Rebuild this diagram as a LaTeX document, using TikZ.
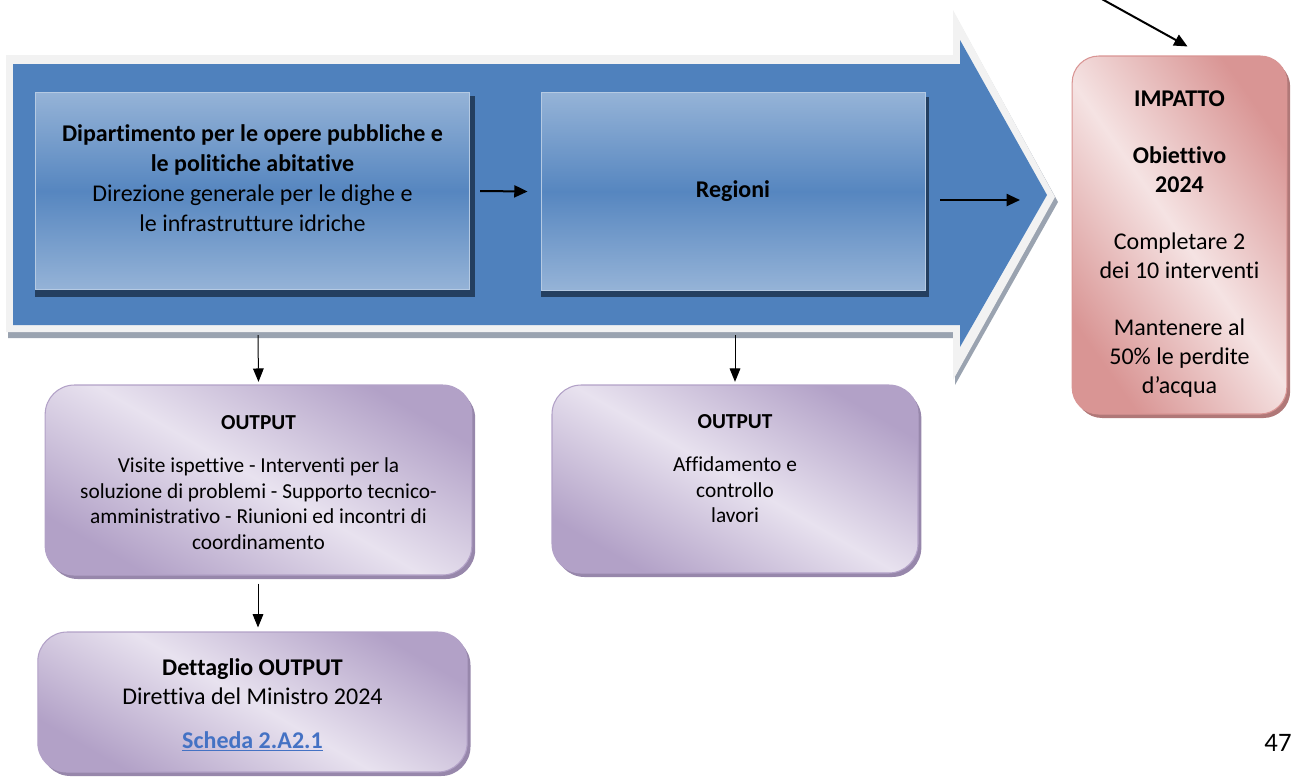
\documentclass[tikz,border=0pt]{standalone}
\usepackage{fontspec}
\setmainfont{Carlito}[Ligatures=NoCommon]
\usetikzlibrary{arrows.meta,shadows}

\definecolor{arrowblue}{HTML}{4F81BD}
\definecolor{paleblue}{HTML}{95B3D7}
\definecolor{navyshade}{HTML}{243F60}
\definecolor{rimgray}{HTML}{F2F2F2}
\definecolor{rimshade}{HTML}{9AA3B0}
\definecolor{lilac}{HTML}{E8E2EF}
\definecolor{lilacdark}{HTML}{B2A1C7}
\definecolor{lilacshade}{HTML}{9787AB}
\definecolor{pinklight}{HTML}{F5E3E3}
\definecolor{pinkdark}{HTML}{D99594}
\definecolor{pinkshade}{HTML}{B07878}
\definecolor{linkblue}{HTML}{4472C4}

\begin{document}
\begin{tikzpicture}[x=0.75pt, y=-0.75pt,
    bluebox/.style={inner sep=0pt, top color=paleblue, bottom color=paleblue, middle color=arrowblue!90!paleblue,
        draw=paleblue!70!white, line width=0.6pt},
    outbox/.style={inner sep=0pt, rounded corners=22pt, left color=lilacdark, right color=lilacdark, middle color=lilac,
        shading angle=150, draw=lilacdark, line width=0.8pt,
        drop shadow={shadow xshift=2.5pt, shadow yshift=-3pt, fill=lilacshade, opacity=1}},
    impbox/.style={inner sep=0pt, rounded corners=20pt, left color=pinkdark, right color=pinkdark, middle color=pinklight,
        shading angle=125, draw=pinkdark, line width=0.8pt,
        drop shadow={shadow xshift=2.5pt, shadow yshift=-3pt, fill=pinkshade, opacity=1}},
    fat/.style={line width=1.5pt, -{Triangle[length=10pt,width=9pt]}},
    thin/.style={line width=0.75pt, -{Triangle[length=10pt,width=8pt]}}]

    \clip (0,0) rectangle (1292,776);

    % big process arrow
    \fill[rimshade] (8,60) -- (955,60) -- (955,15) -- (1058,202) -- (955,385) -- (955,338) -- (8,338) -- cycle;
    \fill[rimgray] (6,55) -- (953,55) -- (953,10) -- (1055,197) -- (953,380) -- (953,332) -- (6,332) -- cycle;
    \fill[arrowblue] (13,64) -- (960,64) -- (960,40) -- (1047,195) -- (960,347) -- (960,325) -- (13,325) -- cycle;

    \fill[navyshade] (35,96) rectangle (474.5,297);
    \node[bluebox, minimum width=326pt, minimum height=148pt] (dipt) at (252.5,191) {};
    \node (dipttxt) at (252.5,178) [align=center, font=\fontsize{18}{22.5}\selectfont]
        {\textbf{Dipartimento per le opere pubbliche e}\\\textbf{le politiche abitative}\\Direzione generale per le dighe e\\le infrastrutture idriche};

    \fill[navyshade] (541,97) rectangle (929,297);
    \node[bluebox, minimum width=288pt, minimum height=148pt, font=\fontsize{18}{22.5}\selectfont\bfseries] (reg) at (733,191.5) {Regioni};

    \coordinate (headend) at (1020,200);
    \draw[fat] ([xshift=7.5pt]dipt.east) -- ([xshift=-9.75pt]reg.west);
    \draw[fat] ([xshift=11pt]reg.east |- headend) -- (headend);

    % outputs
    \node[outbox, minimum width=320pt, minimum height=142.5pt] (out1) at (258.5,480) {};
    \node (out1txt) at ([yshift=-1.9pt]out1.center) [align=center, font=\fontsize{16}{19.2}\selectfont]
        {\textbf{OUTPUT}\\[13pt]Visite ispettive - Interventi per la\\soluzione di problemi - Supporto tecnico-\\amministrativo - Riunioni ed incontri di\\coordinamento};
    \node[outbox, minimum width=274.5pt, minimum height=141pt] (out2) at (735,479) {};
    \node (out2txt) at ([yshift=7.5pt]out2.center) [align=center, font=\fontsize{16}{19.2}\selectfont]
        {\textbf{OUTPUT}\\[13pt]Affidamento e\\controllo\\lavori};
    \node[outbox, minimum width=322pt, minimum height=105pt] (detail) at (252.5,702) {};
    \node (detailtxt) at ([yshift=-2.25pt]detail.center) [align=center, font=\fontsize{18}{21.75}\selectfont]
        {\textbf{Dettaglio OUTPUT}\\Direttiva del Ministro 2024\\[11pt]{\color{linkblue}\textbf{\underline{Scheda 2.A2.1}}}};

    \coordinate (rimA) at (258,335);
    \coordinate (rimB) at (735,335);
    \draw[thin] (rimA) -- ([yshift=2pt]out1.north);
    \draw[thin] (rimB) -- ([yshift=2pt]out2.north);
    \draw[thin] ([yshift=-6pt]out1.south -| rimA) -- ([yshift=3pt]detail.north -| rimA);

    % impatto
    \node[impbox, minimum width=161pt, minimum height=268.5pt] (impatto) at (1179.5,235) {};
    \node (imptxt) at ([yshift=-6.75pt]impatto.center) [align=center, font=\fontsize{18}{21.5}\selectfont]
        {\textbf{IMPATTO}\\[21.5pt]\textbf{Obiettivo}\\\textbf{2024}\\[21.5pt]Completare 2\\dei 10 interventi\\[21.5pt]Mantenere al\\50\% le perdite\\d’acqua};
    \coordinate (topsrc) at (1100,-2);
    \draw[fat] (topsrc) -- ([shift={(8,-9)}]impatto.north);

    \node (pagenum) at (1278,743) {\fontsize{20}{24}\selectfont 47};
\end{tikzpicture}
\end{document}
